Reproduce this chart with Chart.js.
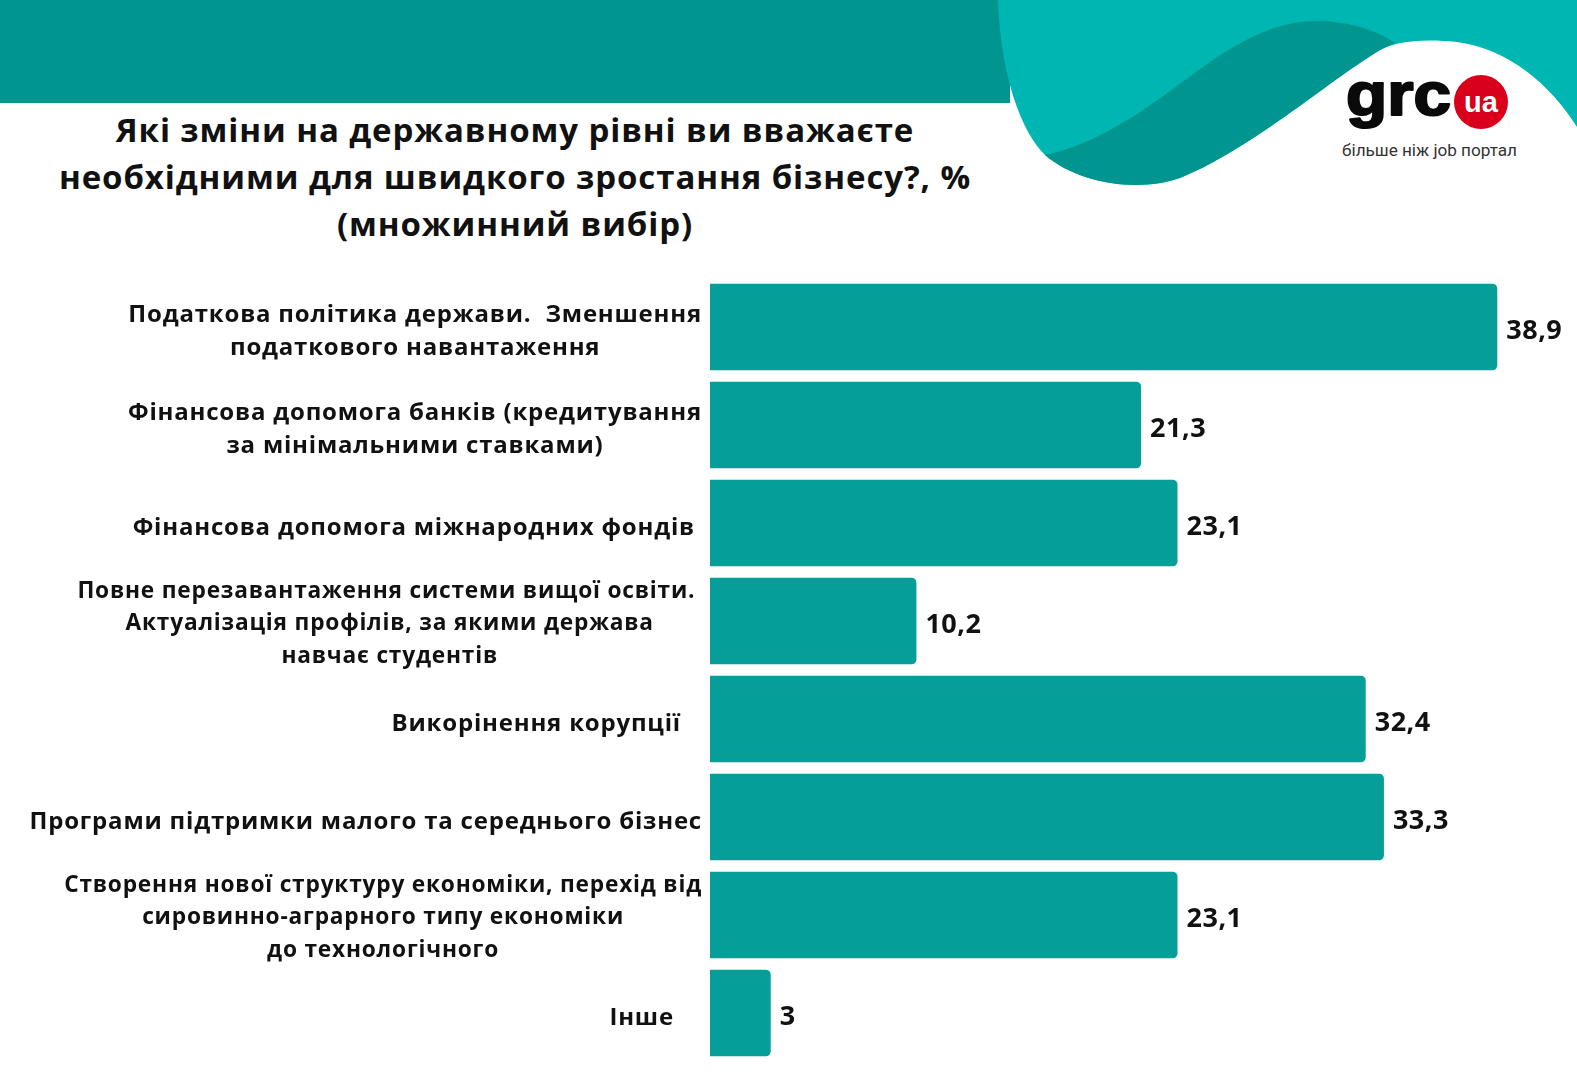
<!DOCTYPE html>
<html lang="uk">
<head>
<meta charset="utf-8">
<title>Зміни на державному рівні</title>
<script src="https://cdn.jsdelivr.net/npm/chart.js@4.4.1/dist/chart.umd.min.js"></script>
<style>
  html, body { margin: 0; padding: 0; background: #fff; }
  body { width: 1577px; height: 1080px; position: relative; overflow: hidden; font-family: "Open Sans", sans-serif; }
  #deco { position: absolute; left: 0; top: 0; }
  #title {
    position: absolute; left: 0; top: 106px; width: 1030px;
    text-align: center; font-weight: 700; font-size: 33px; line-height: 47px;
    letter-spacing: 0.9px; color: #111;
  }
  #wrap { position: absolute; left: 0; top: 270px; width: 1577px; height: 800px; }
</style>
</head>
<body>
<svg id="deco" width="1577" height="200" viewBox="0 0 1577 200">
  <rect x="0" y="0" width="1010" height="103" fill="#00968f"/>
  <path d="M998 0 L1577 0 L1577 127 C1555 92 1515 50 1457 42 C1420 38 1395 42 1380 50
           C1330 80 1250 150 1180 178 C1140 192 1080 185 1045 155 C1015 125 1000 60 998 0 Z" fill="#00b6b2"/>
  <path d="M1045 155 C1080 185 1140 192 1180 178 C1250 150 1330 80 1380 50 C1388 46 1393 44 1395 43
           C1370 25 1330 18 1300 22 C1240 30 1190 80 1140 112 C1100 138 1070 150 1045 155 Z" fill="#00968f"/>
  <text x="1346" y="115" font-family="Liberation Sans, Arial, sans-serif" font-weight="700" font-size="62"
        textLength="105" lengthAdjust="spacingAndGlyphs" fill="#0a0a0a"
        stroke="#0a0a0a" stroke-width="2.2" stroke-linejoin="round">grc</text>
  <circle cx="1481" cy="102" r="27" fill="#d8001a"/>
  <text x="1481" y="112" text-anchor="middle" font-family="Liberation Sans, Arial, sans-serif" font-weight="700"
        font-size="29" fill="#fff">ua</text>
  <text x="1342" y="156" font-family="Roboto, sans-serif" font-size="16" textLength="175"
        lengthAdjust="spacingAndGlyphs" fill="#333">більше ніж job портал</text>
</svg>

<div id="title">Які зміни на державному рівні ви вважаєте<br>необхідними для швидкого зростання бізнесу?, %<br>(множинний вибір)</div>

<div id="wrap"><canvas id="chart"></canvas></div>

<script>
const categories = [
  ['Податкова політика держави.  Зменшення', 'податкового навантаження'],
  ['Фінансова допомога банків (кредитування', 'за мінімальними ставками)'],
  ['Фінансова допомога міжнародних фондів '],
  ['Повне перезавантаження системи вищої освіти. ', 'Актуалізація профілів, за якими держава', 'навчає студентів'],
  ['Викорінення корупції   '],
  ['Програми підтримки малого та середнього бізнес'],
  ['Створення нової структуру економіки, перехід від', 'сировинно-аграрного типу економіки', 'до технологічного'],
  ['Інше    ']
];
const values = [38.9, 21.3, 23.1, 10.2, 32.4, 33.3, 23.1, 3];

const BAR_COLOR = '#069e99';
const VALUE_FONT = '700 27px "Open Sans"';

const labelsPlugin = {
  id: 'labelsPlugin',
  afterDatasetsDraw(chart) {
    const { ctx, chartArea } = chart;
    const meta = chart.getDatasetMeta(0);
    const yScale = chart.scales.y;
    ctx.save();
    ctx.fillStyle = '#111';
    ctx.textBaseline = 'middle';

    // value labels at the bar ends
    ctx.font = VALUE_FONT;
    ctx.letterSpacing = '0.5px';
    ctx.textAlign = 'left';
    meta.data.forEach((bar, i) => {
      ctx.fillText(String(values[i]).replace('.', ','), bar.x + 9, bar.y + 4);
    });

    // category labels: block right-aligned to the bars, lines centred inside the block
    // (three-line labels are set a little smaller, as in the source)
    ctx.letterSpacing = '0.8px';
    ctx.textAlign = 'center';
    const right = chartArea.left - 8;
    categories.forEach((lines, i) => {
      const size = lines.length > 2 ? 22.7 : 24;
      const lh = lines.length > 2 ? 32.7 : 33;
      ctx.font = `700 ${size}px "Open Sans"`;
      const w = Math.max(...lines.map(l => ctx.measureText(l).width));
      const cx = right - w / 2;
      const cy = yScale.getPixelForValue(i) + (lines.length > 2 ? 3 : 5);
      lines.forEach((l, k) => {
        ctx.fillText(l, cx, cy + (k - (lines.length - 1) / 2) * lh);
      });
    });
    ctx.restore();
  }
};

new Chart(document.getElementById('chart'), {
  type: 'bar',
  data: {
    labels: categories.map(c => c.join(' ').trim()),
    datasets: [{
      data: values,
      backgroundColor: BAR_COLOR,
      borderRadius: 5,
      barPercentage: 0.885,
      categoryPercentage: 1
    }]
  },
  options: {
    indexAxis: 'y',
    responsive: true,
    maintainAspectRatio: false,
    animation: false,
    layout: { padding: { left: 710, right: 17, top: 8, bottom: 8 } },
    scales: {
      x: { min: 0, max: 42, display: false },
      y: { display: false }
    },
    plugins: {
      legend: { display: false },
      tooltip: { enabled: false }
    }
  },
  plugins: [labelsPlugin]
});
</script>
</body>
</html>
